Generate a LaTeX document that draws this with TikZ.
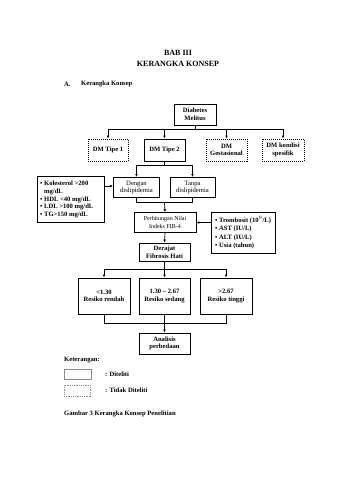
\documentclass[tikz,border=0pt]{standalone}
\usepackage{fontspec}
\setmainfont{Liberation Serif}
\usetikzlibrary{arrows.meta}
\tikzset{
  bx/.style={draw, line width=0.85pt, align=center, inner sep=0pt, font=\fontsize{6.6}{7.6}\selectfont\bfseries},
  dbx/.style={bx, dashed, dash pattern=on 1pt off 1pt},
  ln/.style={line width=0.7pt},
  ar/.style={line width=0.7pt, -{Latex[length=3pt,width=2.6pt]}},
  txt/.style={inner sep=0pt, anchor=west, font=\fontsize{6.6}{7.7}\selectfont\bfseries},
}
\begin{document}
\begin{tikzpicture}[x=1pt,y=-1pt]
\useasboundingbox (0,0) rectangle (339,480);
% titles
\node[inner sep=0pt, font=\fontsize{8}{9}\selectfont\bfseries, align=center] (t1) at (178,53) {BAB III};
\node[inner sep=0pt, font=\fontsize{8}{9}\selectfont\bfseries, align=center] (t2) at (178,63.5) {KERANGKA KONSEP};
\node[inner sep=0pt, anchor=west, font=\fontsize{6.6}{7.6}\selectfont\bfseries] (ta) at (64,84) {A.};
\node[inner sep=0pt, anchor=west, font=\fontsize{6.6}{7.6}\selectfont\bfseries] (tb) at (81,84) {Kerangka Konsep};
% boxes
\node[bx, minimum width=42pt, minimum height=21pt] (dm) at (195,114.5) {Diabetes\\Melitus};
\node[dbx, minimum width=40pt, minimum height=22pt] (t1b) at (108,150) {DM Tipe 1};
\node[bx, minimum width=41pt, minimum height=22pt] (t2b) at (164.5,150) {DM Tipe 2};
\node[dbx, minimum width=41pt, minimum height=22pt] (ges) at (226.5,150) {DM\\Gestasional};
\node[dbx, minimum width=42pt, minimum height=22pt] (spe) at (283,150) {DM kondisi\\spesifik};
\node[bx, minimum width=46pt, minimum height=20pt] (deng) at (136.5,187.5) {\mdseries Dengan\\\mdseries dislipidemia};
\node[bx, minimum width=45pt, minimum height=20pt] (tanp) at (192.5,187.5) {\mdseries Tanpa\\\mdseries dislipidemia};
\node[bx, minimum width=67pt, minimum height=46pt] (kol) at (70.5,199) {};
\node[txt, align=left] (kolt) at (40,199.5) {\textbullet\ Kolesterol >200\\\phantom{\textbullet\ }mg/dL\\\textbullet\ HDL <40 mg/dL\\\textbullet\ LDL >100 mg/dL\\\textbullet\ TG>150 mg/dL};
\node[bx, minimum width=62pt, minimum height=20pt] (fib) at (165,222.5) {\mdseries\fontsize{6}{7.2}\selectfont Perhitungan Nilai\\\mdseries\fontsize{6}{7.2}\selectfont Indeks FIB-4};
\node[bx, minimum width=64pt, minimum height=41pt] (tro) at (243,232.5) {};
\node[txt, align=left] (trot) at (215,232.5) {\textbullet\ Trombosit (10$^{9}$/L)\\[0.8pt]\textbullet\ AST (IU/L)\\[0.8pt]\textbullet\ ALT (IU/L)\\[0.8pt]\textbullet\ Usia (tahun)};
\node[bx, minimum width=51pt, minimum height=18pt] (der) at (164.5,252) {Derajat\\Fibrosis Hati};
\node[bx, minimum width=52pt, minimum height=36pt] (r1) at (104,296) {<1.30\\Resiko rendah};
\node[bx, minimum width=51pt, minimum height=36pt] (r2) at (164.5,296) {1.30 -- 2.67\\Resiko sedang};
\node[bx, minimum width=52pt, minimum height=36pt] (r3) at (226,296) {>2.67\\Resiko tinggi};
\node[bx, minimum width=51pt, minimum height=21pt] (ana) at (164.5,343.5) {Analisis\\perbedaan};
% connectors
\coordinate (j1) at (195,129);
\draw[ln] (dm.south) -- (j1);
\draw[ln] (108,129) -- (283,129);
\draw[ar] (108,129) -- (t1b.north);
\draw[ar] (164.5,129) -- (t2b.north);
\draw[ar] (226.5,129) -- (ges.north);
\draw[ar] (283,129) -- (spe.north);
\draw[ln] (t2b.south) -- (164.5,165);
\draw[ln] (136.5,165) -- (192.5,165);
\draw[ar] (136.5,165) -- (deng.north);
\draw[ar] (192.5,165) -- (tanp.north);
\draw[ar] (kol.east |- 0,186) -- (deng.west |- 0,186);
\draw[ln] (deng.south) -- (136.5,202.5) -- (192.5,202.5) -- (tanp.south);
\draw[ar] (164.5,202.5) -- (fib.north);
\draw[ar] (tro.west |- 0,222.5) -- (fib.east |- 0,222.5);
\draw[ar] (fib.south) -- (der.north);
\draw[ln] (der.south) -- (164.5,269);
\draw[ln] (104,269) -- (226,269);
\draw[ar] (104,269) -- (r1.north);
\draw[ar] (164.5,269) -- (r2.north);
\draw[ar] (226,269) -- (r3.north);
\draw[ln] (r1.south) -- (104,323) -- (226,323) -- (r3.south);
\draw[ar] (r2.south) -- (ana.north);
% legend
\node[txt] (ket) at (64,360) {Keterangan:};
\node[draw=black!45, line width=0.6pt, minimum width=27pt, minimum height=10pt, inner sep=0pt] (lg1) at (77.5,374) {};
\node[txt] (lt1) at (105,374) {: Diteliti};
\node[draw=black!45, dashed, dash pattern=on 1pt off 0.8pt, line width=0.6pt, minimum width=26pt, minimum height=11pt, inner sep=0pt] (lg2) at (77,390.5) {};
\node[txt] (lt2) at (105,390.5) {: Tidak Diteliti};
\node[inner sep=0pt, anchor=west, font=\fontsize{6.6}{7.6}\selectfont\bfseries] (cap) at (64,414) {Gambar 3 Kerangka Konsep Penelitian};
\end{tikzpicture}
\end{document}
